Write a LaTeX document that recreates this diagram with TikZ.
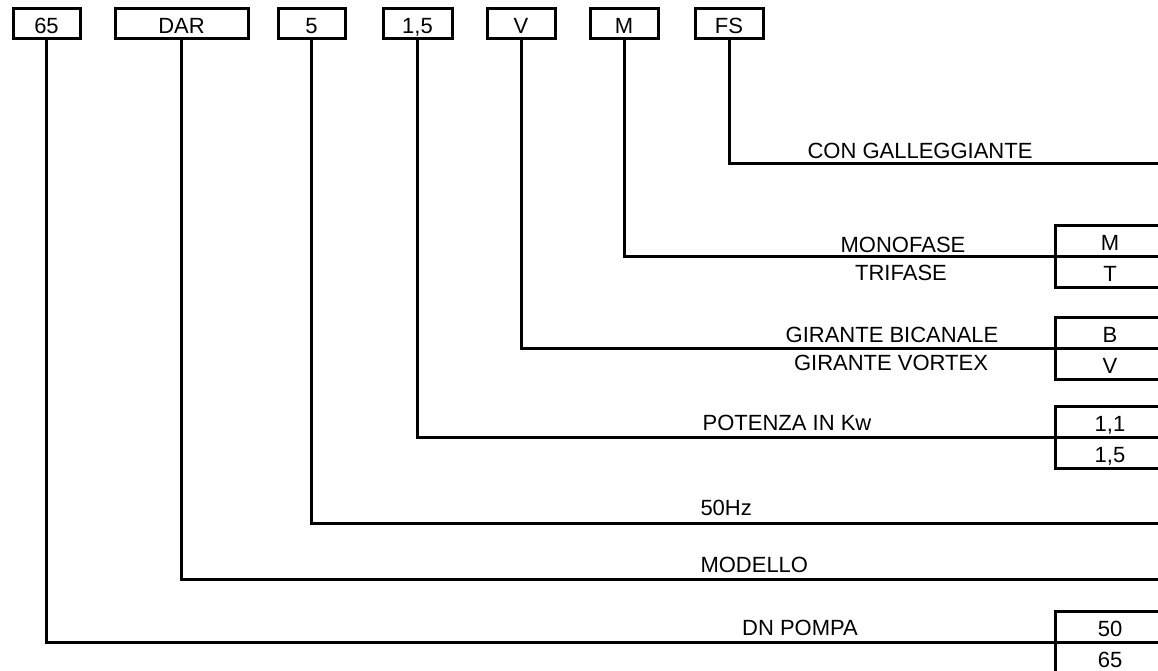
\documentclass[tikz,border=0pt]{standalone}
\usepackage{fontspec}
\setmainfont{Liberation Sans}
\usepackage{tikz}
\usetikzlibrary{positioning}

\begin{document}
\begin{tikzpicture}[x=1pt,y=-1pt,line width=3pt,
    code/.style={draw,inner sep=0pt,outer sep=0pt,minimum height=30pt,text height=20pt,text depth=0pt,font=\fontsize{22}{26}\selectfont},
    opt/.style={draw,inner sep=0pt,outer sep=0pt,minimum width=110pt,minimum height=31pt,text height=19.5pt,text depth=0pt,font=\fontsize{22}{26}\selectfont},
    lbl/.style={inner sep=0pt,anchor=base,font=\fontsize{22}{26}\selectfont}]
    \useasboundingbox (0,0) rectangle (1158,670);

    % code boxes
    \node[code,minimum width=67pt] (c65) at (46.5,23) {65};
    \node[code,minimum width=133pt] (cDAR) at (181.5,23) {DAR};
    \node[code,minimum width=67pt] (c5) at (311.5,23) {5};
    \node[code,minimum width=69pt] (cKw) at (417.5,23) {1,5};
    \node[code,minimum width=68pt] (cV) at (521,23) {V};
    \node[code,minimum width=68pt] (cM) at (624,23) {M};
    \node[code,minimum width=68pt] (cFS) at (729,23) {FS};

    % option boxes
    \node[opt] (oM) at (1110,240.5) {M};
    \node[opt,below=0pt of oM] (oT) {T};
    \node[opt] (oB) at (1110,333) {B};
    \node[opt,below=0pt of oB] (oV) {V};
    \node[opt] (o11) at (1110,422) {1,1};
    \node[opt,below=0pt of o11] (o15) {1,5};
    \node[opt] (o50) at (1110,626.5) {50};
    \node[opt,below=0pt of o50] (o65) {65};

    % free ends at the right margin
    \coordinate (eFS) at (1160,163);
    \coordinate (eHz) at (1160,523);
    \coordinate (eMod) at (1160,579);

    % leaders
    \draw (cFS.south) |- (eFS);
    \draw (cM.south) |- (oM.south west);
    \draw (cV.south) |- (oB.south west);
    \draw (cKw.south) |- (o11.south west);
    \draw (c5.south) |- (eHz);
    \draw (cDAR.south) |- (eMod);
    \draw (c65.south) |- (o50.south west);

    % labels
    \node[lbl] (lFS) at (920,158) {CON GALLEGGIANTE};
    \node[lbl] (lMono) at (903,252) {MONOFASE};
    \node[lbl] (lTri) at (901,280) {TRIFASE};
    \node[lbl] (lBic) at (892,342) {GIRANTE BICANALE};
    \node[lbl] (lVor) at (891,370) {GIRANTE VORTEX};
    \node[lbl] (lKw) at (787,430) {POTENZA IN Kw};
    \node[lbl,anchor=base west] (lHz) at (699,515) {50Hz};
    \node[lbl,anchor=base west] (lMod) at (699,572) {MODELLO};
    \node[lbl] (lDN) at (800,635) {DN POMPA};
\end{tikzpicture}
\end{document}
